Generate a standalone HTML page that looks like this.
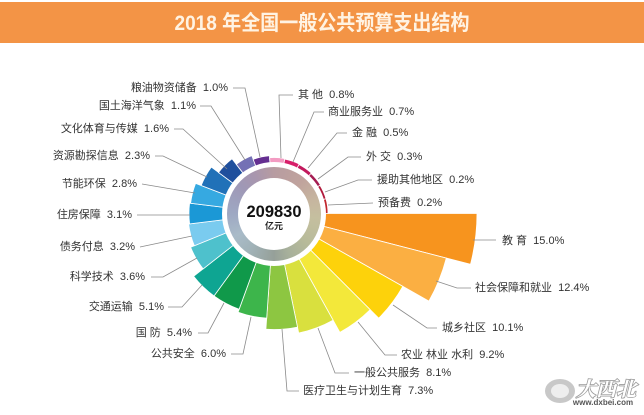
<!DOCTYPE html>
<html><head><meta charset="utf-8"><style>
html,body{margin:0;padding:0;background:#fff;}
#w{position:relative;width:644px;height:415px;overflow:hidden;background:#fff;font-family:"Liberation Sans","Noto Sans CJK SC",sans-serif;}
svg{position:absolute;left:0;top:0;}
.c{position:absolute;border-radius:50%;}
</style></head><body><div id="w">
<svg width="644" height="415" viewBox="0 0 644 415">
<rect x="0" y="2" width="644" height="41" fill="#f39446"/>
<text x="322" y="30" text-anchor="middle" font-size="21" font-weight="bold" fill="#fff3e3" textLength="295" lengthAdjust="spacingAndGlyphs" font-family="Liberation Sans, Noto Sans CJK SC, sans-serif">2018 年全国一般公共预算支出结构</text>
<g stroke="#fff" stroke-width="0.8">
<path d="M274 213.5 L477 213.5 A203 203 0 0 1 470.5 264.3 Z" fill="#f7941e"/>
<path d="M274 213.5 L446.3 258.1 A178 178 0 0 1 428.9 301.1 Z" fill="#fbaf42"/>
<path d="M274 213.5 L402.8 286.4 A148 148 0 0 1 378.7 318.2 Z" fill="#fdd20b"/>
<path d="M274 213.5 L370.2 309.7 A136 136 0 0 1 339.9 332.4 Z" fill="#f3e83a"/>
<path d="M274 213.5 L333.1 320.2 A122 122 0 0 1 298.7 333 Z" fill="#d9e03e"/>
<path d="M274 213.5 L297.5 327.1 A116 116 0 0 1 265.9 329.2 Z" fill="#8dc641"/>
<path d="M274 213.5 L266.7 318.2 A105 105 0 0 1 238.1 312.2 Z" fill="#3db54b"/>
<path d="M274 213.5 L239.1 309.3 A102 102 0 0 1 214 296 Z" fill="#10994a"/>
<path d="M274 213.5 L214 296 A102 102 0 0 1 193.6 276.3 Z" fill="#0ea592"/>
<path d="M274 213.5 L203.1 268.9 A90 90 0 0 1 190.6 247.2 Z" fill="#4ec1cc"/>
<path d="M274 213.5 L194.3 245.7 A86 86 0 0 1 188.6 224 Z" fill="#7acbef"/>
<path d="M274 213.5 L189.6 223.9 A85 85 0 0 1 189.6 203.1 Z" fill="#1b98d6"/>
<path d="M274 213.5 L190.6 203.3 A84 84 0 0 1 195.6 183.4 Z" fill="#36a9e1"/>
<path d="M274 213.5 L201.2 185.5 A78 78 0 0 1 211.3 167.1 Z" fill="#2171b8"/>
<path d="M274 213.5 L218.5 172.5 A69 69 0 0 1 232 158.8 Z" fill="#1f4f9d"/>
<path d="M274 213.5 L236.3 164.3 A62 62 0 0 1 251.8 155.6 Z" fill="#7471b5"/>
<path d="M274 213.5 L253.2 159.4 A58 58 0 0 1 269.4 155.7 Z" fill="#652f91"/>
<path d="M274 213.5 L269.6 157.7 A56 56 0 0 1 284.9 158.6 Z" fill="#f39bc2"/>
<path d="M274 213.5 L284.8 159.1 A55.5 55.5 0 0 1 299.2 164 Z" fill="#d81f6a"/>
<path d="M274 213.5 L299 164.5 A55 55 0 0 1 311.4 173.1 Z" fill="#c2195d"/>
<path d="M274 213.5 L311 173.5 A54.5 54.5 0 0 1 320.5 185 Z" fill="#a51c52"/>
<path d="M274 213.5 L320 185.3 A54 54 0 0 1 326 198.8 Z" fill="#b01a3c"/>
<path d="M274 213.5 L326 198.8 A54 54 0 0 1 328 213.5 Z" fill="#c1272d"/>
</g>
<g fill="none" stroke="#8a8a8a" stroke-width="0.8">
<polyline points="281,158 279,95 293,95"/>
<polyline points="293,162 314,112 324,112"/>
<polyline points="308,168 337,133 347,133"/>
<polyline points="318,179 348,157 361,157"/>
<polyline points="325,192 358,180 372,180"/>
<polyline points="328,205 373,203"/>
<polyline points="473,240 496,240"/>
<polyline points="436,281 457,288 471,288"/>
<polyline points="393,305 427,328 437,328"/>
<polyline points="358,322 385,355 397,355"/>
<polyline points="318,328 335,373 349,373"/>
<polyline points="282,329 287,391 299,391"/>
<polyline points="251,317 243,354 231,354"/>
<polyline points="224,303 208,333 198,333"/>
<polyline points="202,285 182,307 168,307"/>
<polyline points="197,258 163,277 151,277"/>
<polyline points="192,236 140,247"/>
<polyline points="190,215 137,215"/>
<polyline points="195,193 142,184"/>
<polyline points="207,177 163,156 155,156"/>
<polyline points="227,169 183,129 174,129"/>
<polyline points="245,160 211,106 200,106"/>
<polyline points="260,157 245,88 233,88"/>
</g>
<g font-size="11" fill="#333" font-family="Liberation Sans, Noto Sans CJK SC, sans-serif" dominant-baseline="central">
<text x="298" y="95">其&#160;他&#160; 0.8%</text>
<text x="328" y="112">商业服务业&#160; 0.7%</text>
<text x="352" y="133">金&#160;融&#160; 0.5%</text>
<text x="366" y="157">外&#160;交&#160; 0.3%</text>
<text x="377" y="180">援助其他地区&#160; 0.2%</text>
<text x="378" y="203">预备费&#160; 0.2%</text>
<text x="502" y="241">教&#160;育&#160; 15.0%</text>
<text x="475" y="288">社会保障和就业&#160; 12.4%</text>
<text x="442" y="328">城乡社区&#160; 10.1%</text>
<text x="401" y="355">农业&#160;林业&#160;水利&#160; 9.2%</text>
<text x="354" y="373">一般公共服务&#160; 8.1%</text>
<text x="303" y="391">医疗卫生与计划生育&#160; 7.3%</text>
<g text-anchor="end">
<text x="226" y="354">公共安全&#160; 6.0%</text>
<text x="192" y="333">国&#160;防&#160; 5.4%</text>
<text x="164" y="307">交通运输&#160; 5.1%</text>
<text x="145" y="277">科学技术&#160; 3.6%</text>
<text x="135" y="247">债务付息&#160; 3.2%</text>
<text x="132" y="215">住房保障&#160; 3.1%</text>
<text x="137" y="184">节能环保&#160; 2.8%</text>
<text x="150" y="156">资源勘探信息&#160; 2.3%</text>
<text x="169" y="129">文化体育与传媒&#160; 1.6%</text>
<text x="196" y="106">国土海洋气象&#160; 1.1%</text>
<text x="228" y="88">粮油物资储备&#160; 1.0%</text>
</g>
</g>
<g>
<ellipse cx="560" cy="391" rx="15" ry="12" fill="#c8c8c8"/>
<ellipse cx="560" cy="391" rx="9" ry="7" fill="#eee"/>
<text x="606" y="396" text-anchor="middle" font-size="20" font-weight="bold" font-style="italic" fill="#fff" stroke="#9a9a9a" stroke-width="1.6" paint-order="stroke" font-family="Liberation Serif, Noto Serif CJK SC, serif">大西北</text>
<text x="603" y="405" text-anchor="middle" font-size="8" font-weight="bold" fill="#555" font-family="Liberation Sans, sans-serif">www.dxbei.com</text>
</g>
</svg>
<div class="c" style="left:222px;top:161.5px;width:104px;height:104px;background:#fff;"></div>
<div class="c" style="left:227px;top:166.5px;width:94px;height:94px;background:conic-gradient(from 0deg,#b79ca1 0deg,#c0a39d 40deg,#c6b59f 70deg,#c5bf9f 95deg,#b8bb9a 130deg,#a7b09b 160deg,#96a099 180deg,#a1b3b9 215deg,#a9bbc8 240deg,#9ea8c3 270deg,#9f98b6 310deg,#a996ad 335deg,#b79ca1 360deg);"></div>
<div class="c" style="left:238px;top:177.5px;width:72px;height:72px;background:#fff;"></div>
<div style="position:absolute;left:224px;top:202px;width:100px;text-align:center;font-size:16.5px;font-weight:bold;color:#111;line-height:20px;font-family:'Liberation Sans',sans-serif;">209830</div>
<div style="position:absolute;left:244px;top:220px;width:60px;text-align:center;font-size:9px;font-weight:bold;color:#222;line-height:12px;font-family:'Liberation Sans','Noto Sans CJK SC',sans-serif;">亿元</div>
</div></body></html>
